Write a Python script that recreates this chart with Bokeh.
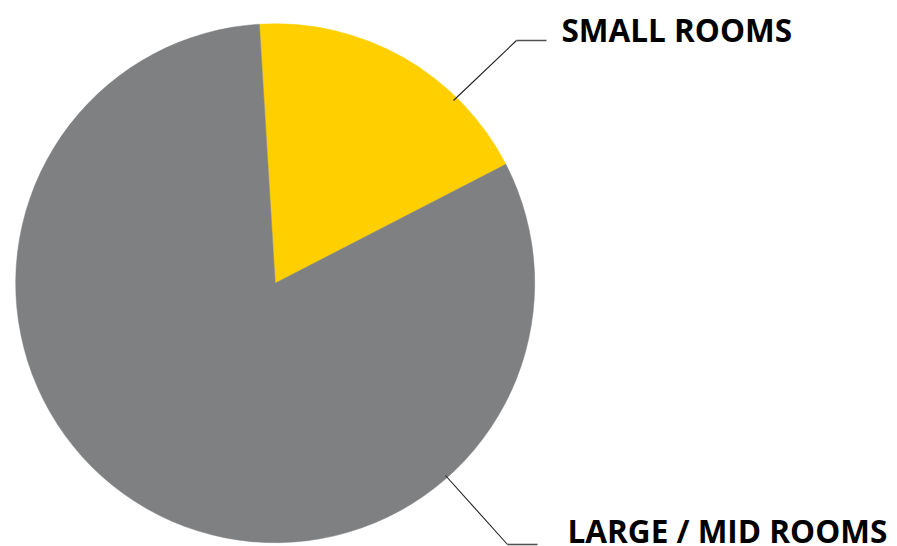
import math
from bokeh.plotting import figure
from bokeh.models import Range1d
from bokeh.embed import file_html
from bokeh.resources import INLINE
from bokeh.core.properties import value

labels = ["SMALL ROOMS", "LARGE / MID ROOMS"]
shares = [18.4, 81.6]
colors = ["#FFCF00", "#7F8082"]

W, H = 897, 546
p = figure(width=W, height=H, output_backend="svg", toolbar_location=None,
           x_range=Range1d(0, W), y_range=Range1d(0, H),
           min_border=0, outline_line_color=None)
p.axis.visible = False
p.grid.visible = False
p.background_fill_color = "white"

cx, cy, r = 274.7, 546 - 282.7, 259.5
start = math.radians(93.5)
total = sum(shares)
ang = start
starts, ends = [], []
for s in shares:
    a2 = ang - s / total * 2 * math.pi
    starts.append(ang)
    ends.append(a2)
    ang = a2

p.wedge(x=[cx] * 2, y=[cy] * 2, radius=r, start_angle=starts, end_angle=ends,
        direction="clock", fill_color=colors, line_color=colors, line_width=0.5)

# leader lines
p.line(x=[453, 516], y=[546 - 100, 546 - 40], line_color="#202020", line_width=1.1)
p.line(x=[516, 546], y=[546 - 40, 546 - 40], line_color="#505050", line_width=1.6)
p.line(x=[445, 507], y=[546 - 475, 546 - 544], line_color="#202020", line_width=1.1)
p.line(x=[507, 537], y=[546 - 544, 546 - 544], line_color="#505050", line_width=1.6)

p.text(x=[561, 567], y=[546 - 29, 546 - 530], text=labels,
       text_font=value("Open Sans"), text_font_style="bold", text_font_size="31.5px",
       text_color="black", text_baseline="alphabetic", text_align="left")

open("out.html", "w").write(file_html(p, INLINE))
